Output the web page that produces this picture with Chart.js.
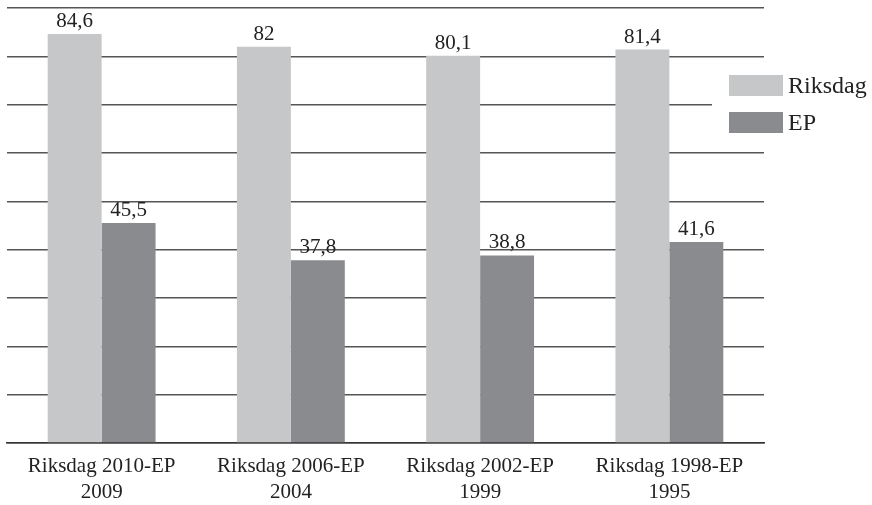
<!DOCTYPE html>
<html>
<head>
<meta charset="utf-8">
<script src="https://cdn.jsdelivr.net/npm/chart.js@4/dist/chart.umd.min.js"></script>
<style>
  html, body { margin: 0; padding: 0; background: #fff; }
  #wrap { width: 872px; height: 505px; }
</style>
</head>
<body>
<div id="wrap"><canvas id="chart" width="872" height="505"></canvas></div>
<script>
var categories = [['Riksdag 2010-EP', '2009'], ['Riksdag 2006-EP', '2004'], ['Riksdag 2002-EP', '1999'], ['Riksdag 1998-EP', '1995']];
var riksdag = [84.6, 82, 80.1, 81.4];
var ep = [45.5, 37.8, 38.8, 41.6];

var serif = '"Liberation Serif", "Times New Roman", serif';

// values above each bar, with decimal comma
var valueLabels = {
    id: 'valueLabels',
    afterDatasetsDraw: function(chart) {
        var ctx = chart.ctx;
        ctx.save();
        ctx.font = '21px ' + serif;
        ctx.fillStyle = '#222';
        ctx.textAlign = 'center';
        ctx.textBaseline = 'alphabetic';
        chart.data.datasets.forEach(function(ds, i) {
            chart.getDatasetMeta(i).data.forEach(function(bar, j) {
                ctx.fillText(String(ds.data[j]).replace('.', ','), bar.x, bar.y - 7);
            });
        });
        ctx.restore();
    }
};

// legend sits over the right end of the plot, with a white backing
var boxLegend = {
    id: 'boxLegend',
    afterDraw: function(chart) {
        var ctx = chart.ctx;
        ctx.save();
        ctx.fillStyle = '#fff';
        ctx.fillRect(712, 66, 160, 78);
        ctx.font = '24px ' + serif;
        ctx.textBaseline = 'alphabetic';
        chart.data.datasets.forEach(function(ds, i) {
            var y = 75 + i * 37;
            ctx.fillStyle = ds.backgroundColor;
            ctx.fillRect(729, y, 54, 21);
            ctx.fillStyle = '#222';
            ctx.fillText(ds.label, 788, y + 18);
        });
        ctx.restore();
    }
};

new Chart(document.getElementById('chart').getContext('2d'), {
    type: 'bar',
    data: {
        labels: categories,
        datasets: [{
            label: 'Riksdag',
            data: riksdag,
            backgroundColor: '#c6c7c9'
        }, {
            label: 'EP',
            data: ep,
            backgroundColor: '#8a8b8e'
        }]
    },
    options: {
        responsive: false,
        animation: false,
        layout: { padding: { left: 7, right: 108, top: 8, bottom: 0 } },
        plugins: {
            legend: { display: false },
            tooltip: { enabled: false }
        },
        datasets: {
            bar: { categoryPercentage: 0.57, barPercentage: 1.0 }
        },
        scales: {
            x: {
                grid: { display: false },
                border: { display: true, color: '#333', width: 1.5 },
                ticks: {
                    color: '#222',
                    font: { family: serif, size: 21, lineHeight: 1.25 },
                    padding: 2,
                    maxRotation: 0
                },
                afterFit: function(scale) {
                    scale.height = 62; // puts the baseline at y=443
                }
            },
            y: {
                min: 0,
                max: 90,
                ticks: { display: false, stepSize: 10 },
                border: { display: false },
                grid: { color: '#555', lineWidth: 1.5, drawTicks: false }
            }
        }
    },
    plugins: [valueLabels, boxLegend]
});
</script>
</body>
</html>
